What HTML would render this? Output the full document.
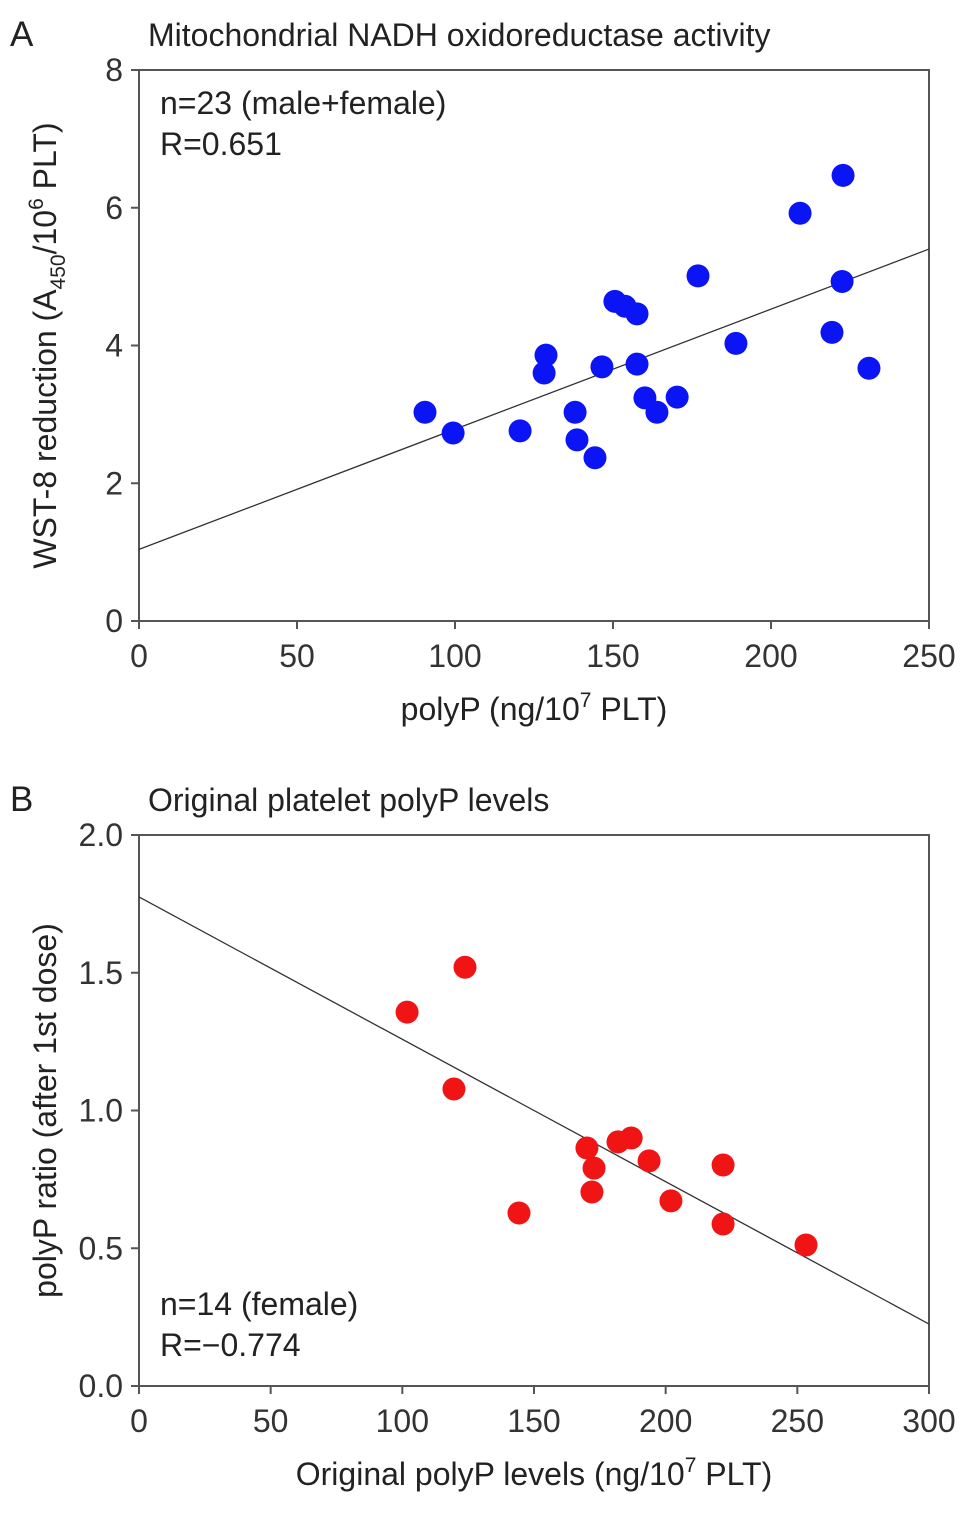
<!DOCTYPE html>
<html><head><meta charset="utf-8"><style>
html,body{margin:0;padding:0;background:#fff;}
svg{display:block;font-family:"Liberation Sans",Arial,sans-serif;}
</style></head><body>
<svg id="chart" width="969" height="1514" viewBox="0 0 969 1514" xmlns="http://www.w3.org/2000/svg"></svg>
<script>
const aX=[90.5,99.4,120.6,128.8,128.2,138,138.6,144.3,146.5,150.6,153.8,157.6,157.6,160.1,163.9,170.3,176.9,188.9,209.2,222.8,222.5,219.3,231];
const aY=[3.03,2.73,2.76,3.86,3.6,3.03,2.63,2.37,3.69,4.64,4.57,4.46,3.73,3.24,3.03,3.25,5.01,4.03,5.92,6.47,4.93,4.19,3.67];
const aFit=[1.04,5.4];
const aXTicks=[0,50,100,150,200,250];
const aYTicks=[0,2,4,6,8];
const bX=[101.8,123.8,119.6,144.3,170.1,172.8,172,181.9,186.9,193.7,202,221.8,221.8,253.3];
const bY=[1.357,1.52,1.078,0.628,0.864,0.791,0.704,0.886,0.900,0.817,0.672,0.802,0.588,0.512];
const bFit=[1.775,0.225];
const bXTicks=[0,50,100,150,200,250,300];
const bYTicks=["0.0","0.5","1.0","1.5","2.0"];

const svg=document.getElementById('chart');
const NS="http://www.w3.org/2000/svg";
const FS=32;
function mk(tag,attrs,parent,name,txt){
  const e=document.createElementNS(NS,tag);
  for(const k in attrs)e.setAttribute(k,attrs[k]);
  
  
  if(txt!==undefined)e.innerHTML=txt;
  (parent||svg).appendChild(e);return e;
}
function panel(o){
  const g=mk('g',{},svg,o.id);
  const sx=v=>o.x0+(v-o.xmin)/(o.xmax-o.xmin)*(o.x1-o.x0);
  const sy=v=>o.y0-(v-o.ymin)/(o.ymax-o.ymin)*(o.y0-o.y1);
  mk('rect',{x:o.x0,y:o.y1,width:o.x1-o.x0,height:o.y0-o.y1,fill:'none',stroke:'#555','stroke-width':2},g,'plot-frame');
  o.xt.forEach(t=>{const v=+t;
    mk('line',{x1:sx(v),x2:sx(v),y1:o.y0,y2:o.y0+8,stroke:'#555','stroke-width':2},g,'x-tick');
    mk('text',{x:sx(v),y:o.y0+46,'text-anchor':'middle','font-size':FS,fill:'#333'},g,'x-tick-label',t);});
  o.yt.forEach(t=>{const v=+t;
    mk('line',{x1:o.x0-8,x2:o.x0,y1:sy(v),y2:sy(v),stroke:'#555','stroke-width':2},g,'y-tick');
    mk('text',{x:o.x0-16,y:sy(v)+11,'text-anchor':'end','font-size':FS,fill:'#333'},g,'y-tick-label',t);});
  mk('line',{x1:sx(o.xmin),y1:sy(o.fit[0]),x2:sx(o.xmax),y2:sy(o.fit[1]),stroke:'#333','stroke-width':1.3},g,'regression-line');
  o.xs.forEach((x,i)=>{mk('circle',{cx:sx(x),cy:sy(o.ys[i]),r:11.5,fill:o.col},g,'data-point');});
  mk('text',{x:10,y:o.y1-24,'font-size':35,fill:'#222'},g,'panel-letter',o.letter);
  mk('text',{x:148,y:o.y1-24,'font-size':FS,fill:'#222'},g,'panel-title',o.title);
  mk('text',{x:160,y:o.ny,'font-size':FS,fill:'#222'},g,'n-annotation',o.n);
  mk('text',{x:160,y:o.ny+41,'font-size':FS,fill:'#222'},g,'r-annotation',o.r);
  mk('text',{x:(o.x0+o.x1)/2,y:o.y0+99,'text-anchor':'middle','font-size':FS,fill:'#222'},g,'x-axis-title',o.xl);
  mk('text',{x:0,y:0,'text-anchor':'middle','font-size':FS,fill:'#222',transform:`translate(56,${(o.y0+o.y1)/2}) rotate(-90)`},g,'y-axis-title',o.yl);
}
panel({id:'panel-a',x0:139,x1:929,y0:621,y1:70,xmin:0,xmax:250,ymin:0,ymax:8,xt:aXTicks.map(String),yt:aYTicks.map(String),
 xs:aX,ys:aY,fit:aFit,col:'#0a14f5',letter:'A',title:'Mitochondrial NADH oxidoreductase activity',
 n:'n=23 (male+female)',r:'R=0.651',ny:114,
 xl:'polyP (ng/10<tspan dy="-13" font-size="21">7</tspan><tspan dy="13"> PLT)</tspan>',
 yl:'WST-8 reduction (A<tspan dy="9" font-size="21">450</tspan><tspan dy="-9">/10</tspan><tspan dy="-13" font-size="21">6</tspan><tspan dy="13"> PLT)</tspan>'});
panel({id:'panel-b',x0:139,x1:929,y0:1386,y1:835,xmin:0,xmax:300,ymin:0,ymax:2,xt:bXTicks.map(String),yt:bYTicks,
 xs:bX,ys:bY,fit:bFit,col:'#f01414',letter:'B',title:'Original platelet polyP levels',
 n:'n=14 (female)',r:'R=\u22120.774',ny:1315,
 xl:'Original polyP levels (ng/10<tspan dy="-13" font-size="21">7</tspan><tspan dy="13"> PLT)</tspan>',
 yl:'polyP ratio (after 1st dose)'});
</script>
</body></html>
